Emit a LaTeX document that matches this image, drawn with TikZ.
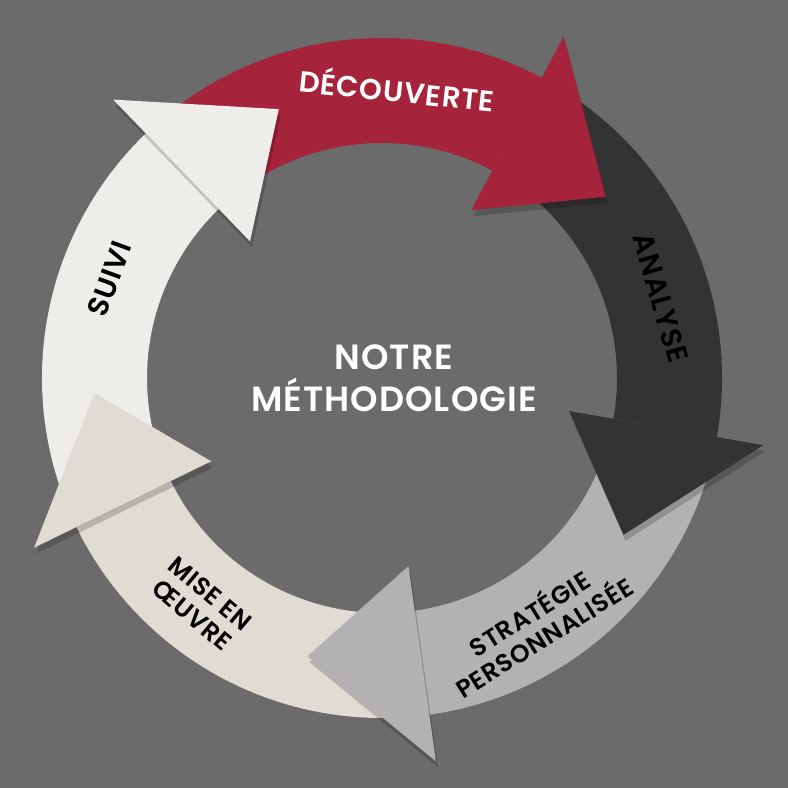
\documentclass[tikz,border=0pt]{standalone}
\usepackage{fontspec}
\usetikzlibrary{calc}
\setmainfont{Poppins}[BoldFont=* SemiBold,LetterSpace=3]
\definecolor{bg}{HTML}{6B6B6B}
\definecolor{cred}{HTML}{A6243B}
\definecolor{cdark}{HTML}{333333}
\definecolor{cgrey}{HTML}{B3B1B3}
\definecolor{cbeige}{HTML}{E0DBD3}
\definecolor{cwhite}{HTML}{EFEDE9}
\begin{document}
\begin{tikzpicture}[x=1pt,y=1pt,
  lbl/.style={font=\fontsize{29}{31}\selectfont\bfseries,align=center,inner sep=0pt}]
\fill[bg] (0,0) rectangle (788,788);
\useasboundingbox (0,0) rectangle (788,788);
\begin{scope}[shift={(382,410)}]
\foreach \c/\s/\h in {cred/130/62, cdark/58/-10, cgrey/-14/-82, cbeige/-86/-154, cwhite/-158/-226}{
  \fill[\c] (\s:340) arc[start angle=\s,end angle=\h,radius=340] -- (\h:235)
     arc[start angle=\h,end angle=\s,radius=235] -- cycle;
}
\foreach \c/\h in {cred/62, cdark/-10, cgrey/-82, cbeige/-154, cwhite/-226}{
  \pgfmathsetmacro\t{\h-23}
  \fill[black,opacity=0.18] ($(\h:387)+(2,-6)$) -- ($(\t:288)+(2,-6)$) -- ($(\h:190)+(2,-6)$) -- cycle;
  \fill[\c] (\h:387) -- (\t:288) -- (\h:190) -- cycle;
}
\node[lbl,white,rotate=-6] (d) at (87:290) {DÉCOUVERTE};
\node[lbl,black,rotate=-74] (a) at (16:290) {ANALYSE};
\node[lbl,black,rotate=32,font=\fontsize{25}{28}\selectfont\bfseries] (s) at (-58:290) {STRATÉGIE\\PERSONNALISÉE};
\node[lbl,black,rotate=-40,font=\fontsize{25}{28}\selectfont\bfseries] (m) at (-128.6:290) {MISE EN\\ŒUVRE};
\node[lbl,black,rotate=70] (su) at (160:290) {SUIVI};
\node[lbl,white,font=\fontsize{35}{42}\selectfont\bfseries] (c) at (12,0) {NOTRE\\MÉTHODOLOGIE};
\end{scope}
\end{tikzpicture}
\end{document}
